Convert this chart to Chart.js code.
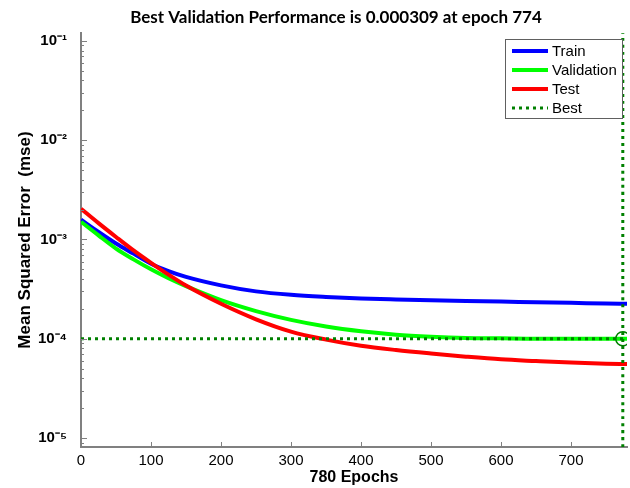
<!DOCTYPE html>
<html>
<head>
<meta charset="utf-8">
<script src="https://cdn.jsdelivr.net/npm/chart.js@4.4.1/dist/chart.umd.min.js"></script>
<style>
    html, body { margin: 0; padding: 0; background: #fff; }
</style>
</head>
<body>
<canvas id="desempenho" width="630" height="488"></canvas>
<script>
var epocas = [0, 25, 50, 75, 100, 125, 150, 200, 250, 300, 350, 400, 450, 500, 550, 600, 650, 700, 750, 780];
var treino = [1.58e-3, 1.19e-3, 9.1e-4, 7.2e-4, 5.7e-4, 4.8e-4, 4.2e-4, 3.45e-4, 3.0e-4, 2.77e-4, 2.64e-4, 2.55e-4, 2.49e-4, 2.44e-4, 2.4e-4, 2.37e-4, 2.33e-4, 2.3e-4, 2.26e-4, 2.25e-4];
var validacao = [1.51e-3, 1.1e-3, 8.1e-4, 6.3e-4, 5.0e-4, 4.07e-4, 3.39e-4, 2.45e-4, 1.9e-4, 1.55e-4, 1.33e-4, 1.19e-4, 1.1e-4, 1.05e-4, 1.02e-4, 1.01e-4, 1.0e-4, 1.0e-4, 1.0e-4, 1.0e-4];
var teste = [2.04e-3, 1.46e-3, 1.06e-3, 7.76e-4, 5.82e-4, 4.42e-4, 3.43e-4, 2.25e-4, 1.57e-4, 1.18e-4, 9.8e-5, 8.5e-5, 7.7e-5, 7.1e-5, 6.6e-5, 6.2e-5, 5.96e-5, 5.75e-5, 5.6e-5, 5.56e-5];

var melhorEpoca = 774;
var melhorValor = 1.0e-4;
var totalEpocas = 780;

var yMin = 8.12e-6;
var yMax = 0.1202;
var valoresY = [1e-5, 1e-4, 1e-3, 1e-2, 1e-1];
var rotulosY = ['10⁻⁵', '10⁻⁴', '10⁻³', '10⁻²', '10⁻¹'];
var valoresX = [0, 100, 200, 300, 400, 500, 600, 700];

var tituloGrafico = 'Best Validation Performance is 0.000309 at epoch 774';
var tituloX = '780 Epochs';
var tituloY = 'Mean Squared Error  (mse)';
var nomesLegenda = ['Train', 'Validation', 'Test', 'Best'];

var verdeBest = 'rgb(0,128,0)';

// junta x e y em pontos
function pontos(lista) {
    var saida = [];
    for (var i = 0; i < epocas.length; i++) {
        saida.push({ x: epocas[i], y: lista[i] });
    }
    return saida;
}

// marcas dos eixos para dentro, como no matlab
var marcasInternas = {
    id: 'marcasInternas',
    afterDatasetsDraw: function (chart) {
        var ctx = chart.ctx;
        var area = chart.chartArea;
        var ey = chart.scales.y;
        var ex = chart.scales.x;
        ctx.save();
        ctx.strokeStyle = '#808080';
        ctx.lineWidth = 1;
        ctx.beginPath();
        for (var d = -6; d <= 0; d++) {
            for (var m = 1; m <= 9; m++) {
                var v = m * Math.pow(10, d);
                if (v < ey.min || v > ey.max) continue;
                var py = Math.round(ey.getPixelForValue(v)) + 0.5;
                var tam = (m == 1) ? 6 : 3;
                ctx.moveTo(area.left, py);
                ctx.lineTo(area.left + tam, py);
            }
        }
        ex.ticks.forEach(function (t) {
            var px = Math.round(ex.getPixelForValue(t.value)) + 0.5;
            ctx.moveTo(px, area.bottom);
            ctx.lineTo(px, area.bottom - 5);
        });
        ctx.stroke();
        ctx.restore();
    }
};

// titulo e legenda desenhados na mao
var extras = {
    id: 'extras',
    afterDraw: function (chart) {
        var ctx = chart.ctx;
        var area = chart.chartArea;
        ctx.save();

        ctx.fillStyle = '#000';
        ctx.font = 'bold 17px Lato, "Open Sans", sans-serif';
        ctx.textAlign = 'center';
        ctx.textBaseline = 'middle';
        ctx.fillText(tituloGrafico, (area.left + area.right) / 2 - 18, 18);

        // caixa da legenda
        var larg = 117, alt = 79;
        var bx = area.right - 5 - larg;
        var by = area.top + 6;
        ctx.fillStyle = '#fff';
        ctx.fillRect(bx, by, larg, alt);
        ctx.strokeStyle = '#606060';
        ctx.lineWidth = 1;
        ctx.strokeRect(bx + 0.5, by + 0.5, larg, alt);

        ctx.font = '15px "Liberation Sans", Arial, sans-serif';
        ctx.textAlign = 'left';
        for (var i = 0; i < nomesLegenda.length; i++) {
            var ds = chart.data.datasets[i];
            var ly = by + 12 + i * 19;
            ctx.strokeStyle = ds.borderColor;
            ctx.lineWidth = ds.borderWidth;
            ctx.setLineDash(ds.borderDash || []);
            ctx.beginPath();
            ctx.moveTo(bx + 7, ly);
            ctx.lineTo(bx + 43, ly);
            ctx.stroke();
            ctx.setLineDash([]);
            ctx.fillStyle = '#000';
            ctx.fillText(nomesLegenda[i], bx + 47, ly + 1);
        }
        ctx.restore();
    }
};

var config = {
    type: 'line',
    data: {
        datasets: [
            { label: 'Train', data: pontos(treino), borderColor: '#0000ff', borderWidth: 4, order: 4 },
            { label: 'Validation', data: pontos(validacao), borderColor: '#00ff00', borderWidth: 4, order: 3 },
            { label: 'Test', data: pontos(teste), borderColor: '#ff0000', borderWidth: 4, order: 2 },
            {
                label: 'Best',
                data: [{ x: 0, y: melhorValor }, { x: totalEpocas, y: melhorValor }],
                borderColor: verdeBest, borderWidth: 3, borderDash: [3, 4], order: 1
            },
            {
                label: 'Best epoch',
                data: [{ x: melhorEpoca, y: yMin }, { x: melhorEpoca, y: yMax }],
                borderColor: verdeBest, borderWidth: 3, borderDash: [3, 4], order: 1
            },
            {
                label: 'Best point',
                data: [{ x: melhorEpoca, y: melhorValor }],
                showLine: false,
                pointRadius: 7,
                pointBorderWidth: 1.5,
                pointBorderColor: verdeBest,
                pointBackgroundColor: 'rgba(0,0,0,0)',
                borderColor: verdeBest,
                order: 0
            }
        ]
    },
    options: {
        responsive: false,
        animation: false,
        devicePixelRatio: 1,
        elements: {
            point: { radius: 0 },
            line: { cubicInterpolationMode: 'monotone', borderCapStyle: 'butt' }
        },
        layout: { autoPadding: false, padding: { top: 33, right: 3, left: 0, bottom: 0 } },
        plugins: {
            legend: { display: false },
            tooltip: { enabled: false }
        },
        scales: {
            x: {
                type: 'linear',
                min: 0,
                max: totalEpocas,
                grid: { display: false, drawTicks: false },
                border: { display: true, color: '#808080', width: 2 },
                afterBuildTicks: function (escala) {
                    escala.ticks = valoresX.map(function (v) { return { value: v }; });
                },
                afterFit: function (escala) { escala.height = 41; },
                ticks: {
                    autoSkip: false,
                    maxRotation: 0,
                    padding: 5,
                    color: '#000',
                    font: { family: '"Liberation Sans", Arial, sans-serif', size: 15 },
                    callback: function (v) { return String(v); }
                },
                title: {
                    display: true,
                    text: tituloX,
                    color: '#000',
                    font: { family: '"Liberation Sans", Arial, sans-serif', size: 16, weight: 'bold' },
                    padding: { top: 0, bottom: 1 }
                }
            },
            y: {
                type: 'logarithmic',
                min: yMin,
                max: yMax,
                grid: { display: false, drawTicks: false },
                border: { display: true, color: '#808080', width: 2 },
                afterBuildTicks: function (escala) {
                    escala.ticks = valoresY.map(function (v) { return { value: v }; });
                },
                afterFit: function (escala) { escala.width = 81; },
                ticks: {
                    autoSkip: false,
                    padding: 14,
                    color: '#000',
                    font: { family: '"Liberation Sans", Arial, sans-serif', size: 15, weight: 'bold' },
                    callback: function (v, i) { return rotulosY[i]; }
                },
                title: {
                    display: true,
                    text: tituloY,
                    color: '#000',
                    font: { family: '"Liberation Sans", Arial, sans-serif', size: 17, weight: 'bold' },
                    padding: { top: 15, bottom: 0 }
                }
            }
        }
    },
    plugins: [marcasInternas, extras]
};

var grafico = new Chart(document.getElementById('desempenho'), config);
</script>
</body>
</html>
